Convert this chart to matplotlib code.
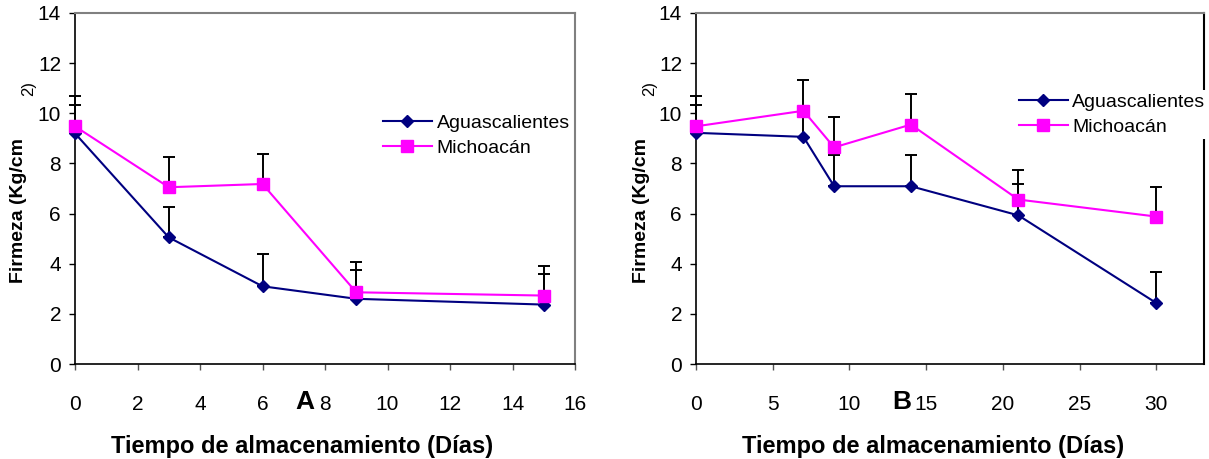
import matplotlib.pyplot as plt
import numpy as np

# ------- plot appearance
plt.rcParams.update({'font.family': ['Liberation Sans', 'DejaVu Sans'],
                     'font.size': 14})

# ------- data
days_a = [0, 3, 6, 9, 15]
agu_a = [9.2, 5.05, 3.1, 2.6, 2.37]
mich_a = [9.48, 7.05, 7.18, 2.86, 2.73]
agu_a_err = [1.13, 1.23, 1.3, 1.15, 1.23]
mich_a_err = [1.2, 1.19, 1.21, 1.22, 1.18]

days_b = [0, 7, 9, 14, 21, 30]
agu_b = [9.22, 9.06, 7.09, 7.09, 5.93, 2.43]
mich_b = [9.48, 10.1, 8.64, 9.55, 6.56, 5.88]
agu_b_err = [1.11, 1.15, 1.23, 1.23, 1.25, 1.23]
mich_b_err = [1.2, 1.23, 1.21, 1.21, 1.18, 1.19]

yticks = np.arange(0, 15, 2)
xticks_a = np.arange(0, 17, 2)
xticks_b = np.arange(0, 31, 5)

W, H = 1209, 459
fig = plt.figure(figsize=(W / 100, H / 100), dpi=100)


def px_axes(x0, y0, x1, y1):
    return fig.add_axes([x0 / W, 1 - y1 / H, (x1 - x0) / W, (y1 - y0) / H])


def panel(ax, days, agu, mich, agu_err, mich_err, xmax, xticks, right_col):
    for vals, err in ((agu, agu_err), (mich, mich_err)):
        ax.errorbar(days, vals, yerr=[np.zeros(len(err)), err], fmt='none',
                    ecolor='black', elinewidth=1.4, capsize=4, capthick=1.4,
                    zorder=2, clip_on=False)
    ax.plot(days, agu, color='#000080', lw=1.5, marker='D', ms=6.5,
            label='Aguascalientes', zorder=3, clip_on=False)
    ax.plot(days, mich, color='#FF00FF', lw=1.5, marker='s', ms=9,
            label='Michoacán', zorder=3, clip_on=False)
    ax.set_xlim(0, xmax)
    ax.set_ylim(0, 14)
    ax.set_yticks(yticks)
    ax.set_xticks(xticks)
    ax.tick_params(axis='both', labelsize=15)
    ax.tick_params(axis='y', direction='out', length=4, width=1, pad=6)
    ax.tick_params(axis='x', direction='out', length=4, width=1, pad=18,
                   color='#555555')
    for s in ('left', 'bottom'):
        ax.spines[s].set_color('black')
        ax.spines[s].set_linewidth(1.2)
    ax.spines['top'].set_color('#808080')
    ax.spines['top'].set_linewidth(1.5)
    ax.spines['right'].set_color(right_col)
    ax.spines['right'].set_linewidth(1.5)


# ------ panel A
axA = px_axes(75, 13, 575, 364)
panel(axA, days_a, agu_a, mich_a, agu_a_err, mich_a_err, 16, xticks_a,
      '#808080')
axA.legend(loc='upper left', bbox_to_anchor=(383 / W, 1 - 114 / H),
           bbox_transform=fig.transFigure, frameon=False, handlelength=2.5,
           handletextpad=0.25, labelspacing=0.4, borderpad=0,
           borderaxespad=0, fontsize=14)

# ------ panel B
axB = px_axes(696, 13, 1204, 364)
panel(axB, days_b, agu_b, mich_b, agu_b_err, mich_b_err, 33.1, xticks_b,
      'black')
lg = axB.legend(loc='upper left', bbox_to_anchor=(1016 / W, 1 - 90 / H),
                bbox_transform=fig.transFigure, frameon=True, handlelength=2.5,
                handletextpad=0.25, labelspacing=0.4, borderpad=0.15,
                borderaxespad=0, fontsize=14, fancybox=False, framealpha=1)
lg.get_frame().set_edgecolor('white')
lg.get_frame().set_linewidth(0)

# ------ labels
for x_y, x_2, x_lab, x_let, let in ((19, 29, 302, 305, 'A'),
                                     (641, 650, 933, 902, 'B')):
    fig.text(x_y / W, 1 - 283 / H, 'Firmeza (Kg/cm', rotation=90,
             ha='center', va='bottom', fontsize=14, fontweight='bold')
    fig.text(x_2 / W, 1 - 96 / H, '2)', rotation=90, ha='center',
             va='bottom', fontsize=12)
    fig.text(x_lab / W, 1 - 453 / H, 'Tiempo de almacenamiento (Días)',
             ha='center', va='baseline', fontsize=17, fontweight='bold')
    fig.text(x_let / W, 1 - 402 / H, let, ha='center', va='center',
             fontsize=19, fontweight='bold')

fig.savefig('out.png', dpi=100)
